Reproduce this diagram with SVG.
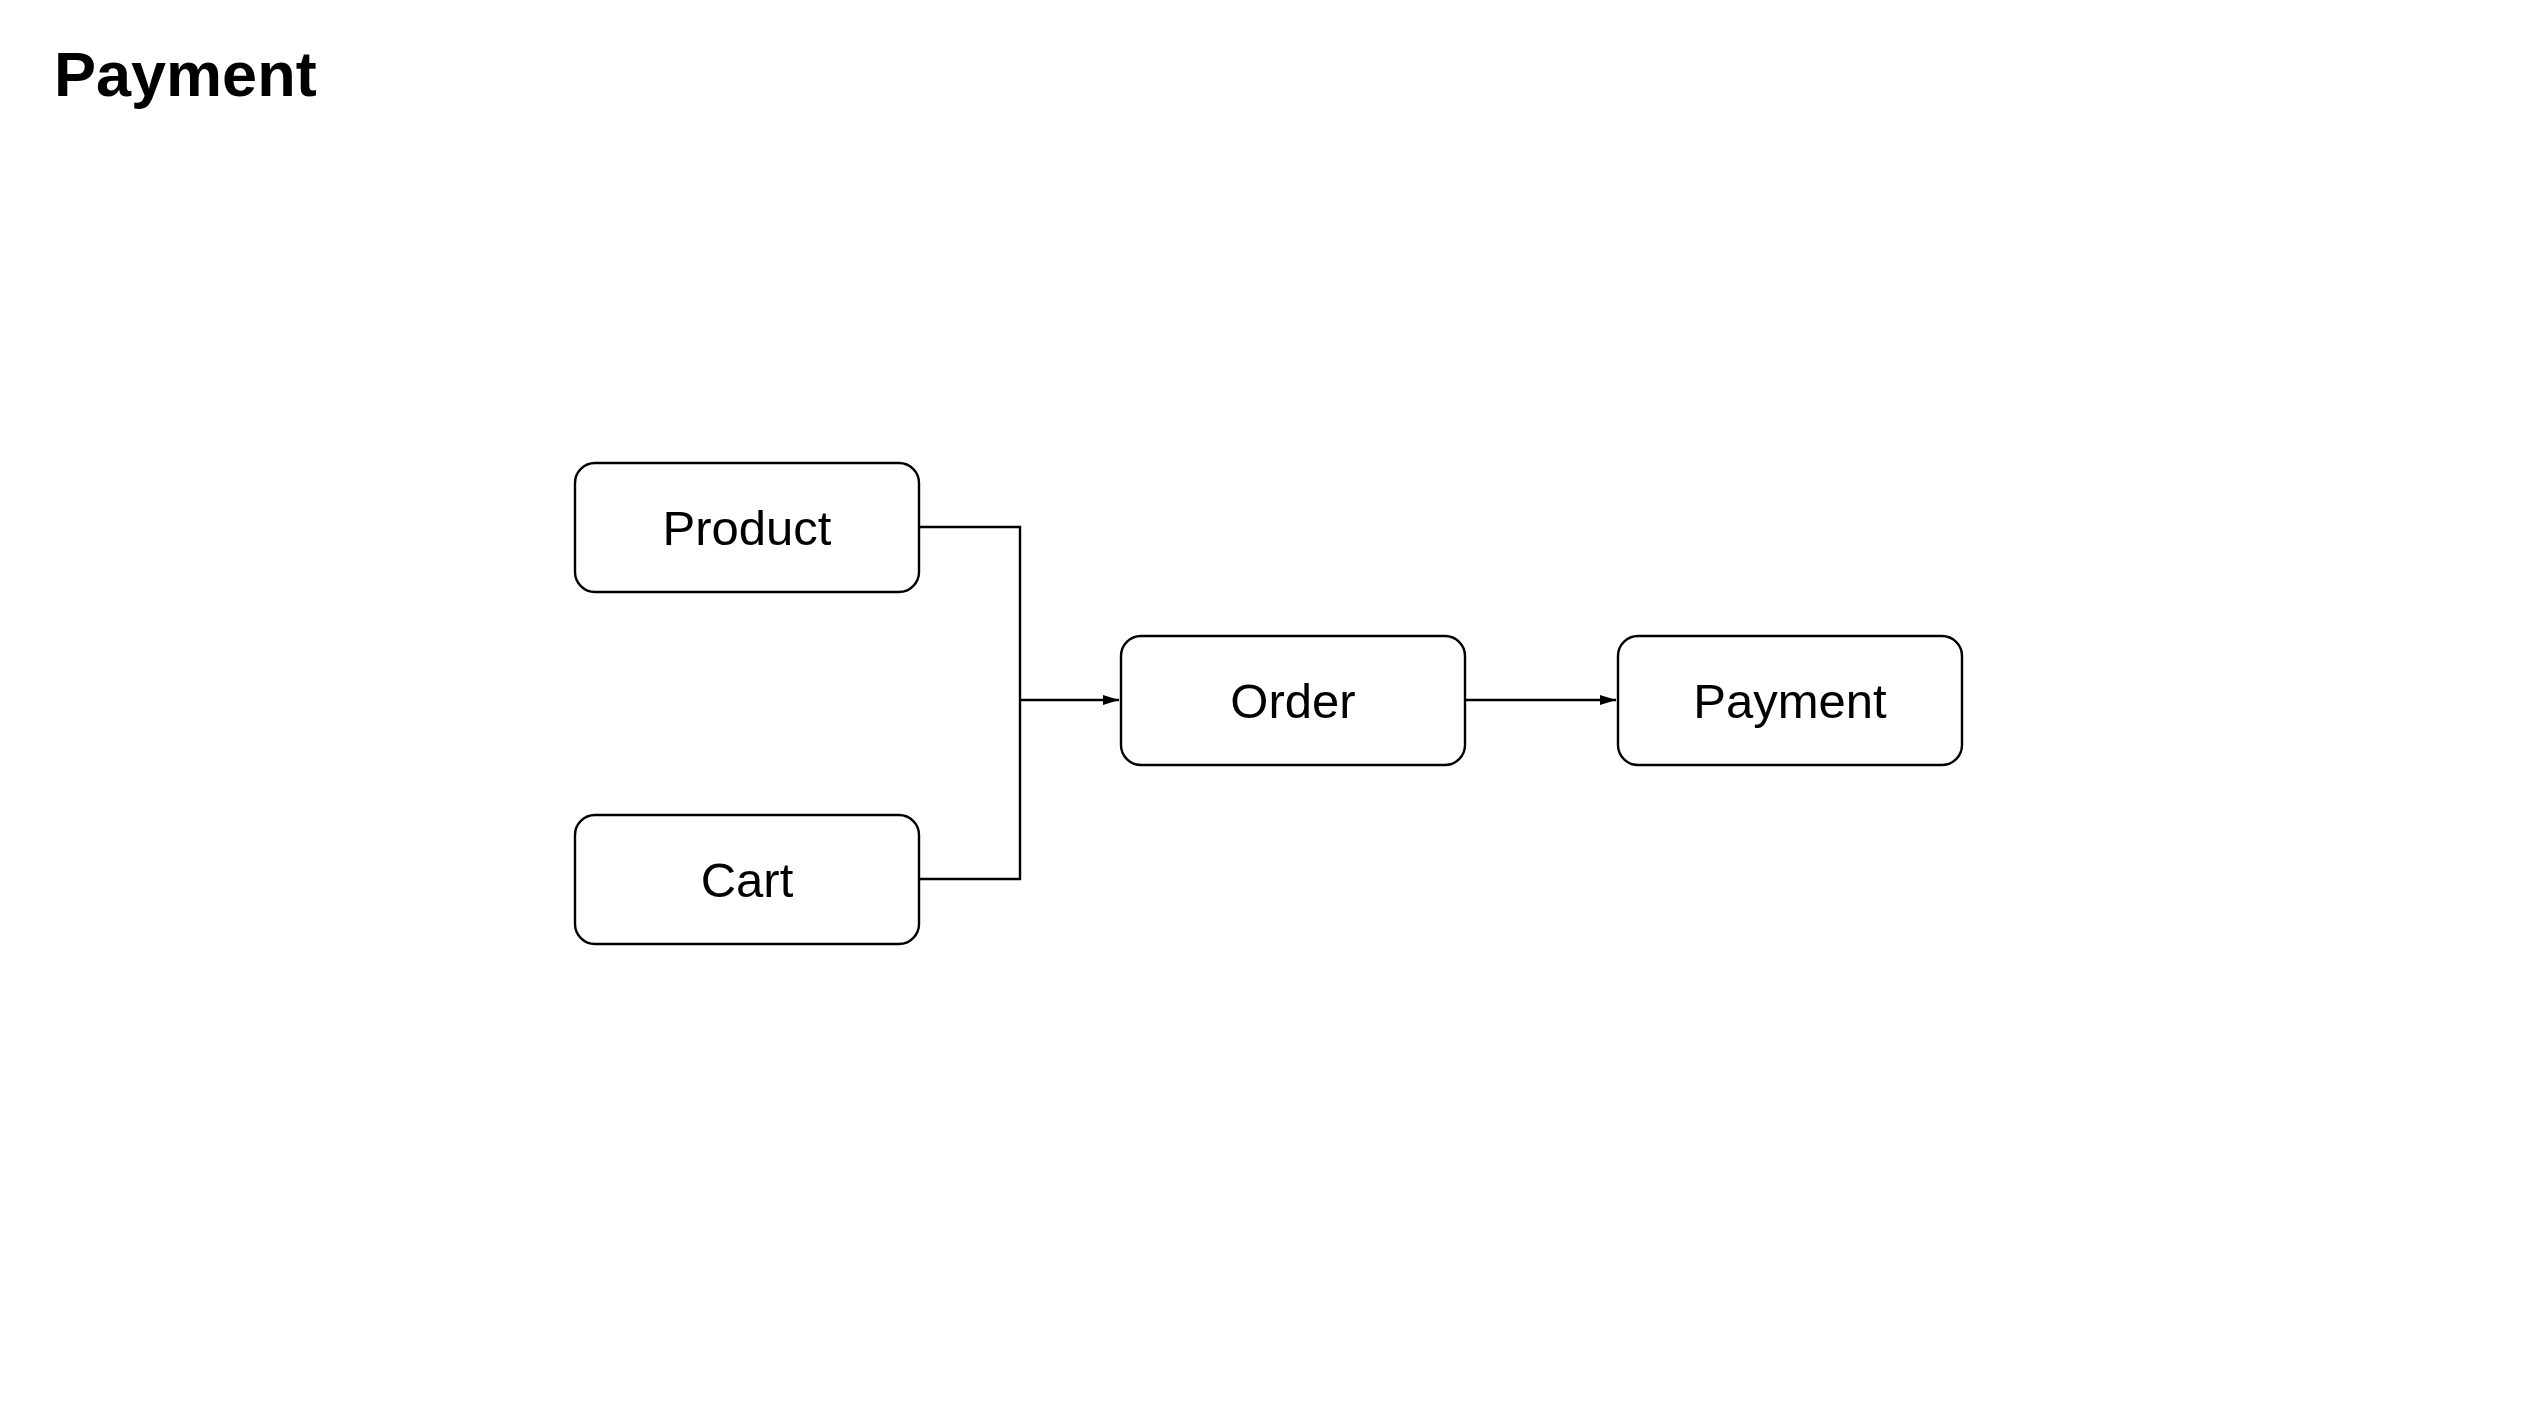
<svg xmlns="http://www.w3.org/2000/svg" width="2528" height="1410" viewBox="0 0 2528 1410">
<style>
.box{fill:#fff;stroke:#000;stroke-width:2.4}
.lbl{font-family:"Liberation Sans",Arial,sans-serif;font-size:49px;fill:#000;text-anchor:middle}
.edge{fill:none;stroke:#000;stroke-width:2.4}
.title{font-family:"Liberation Sans",Arial,sans-serif;font-size:63px;font-weight:bold;fill:#000}
</style>
<defs>
<marker id="arr" viewBox="0 0 10 10" refX="10" refY="5" markerWidth="16" markerHeight="10" markerUnits="userSpaceOnUse" orient="auto" preserveAspectRatio="none">
<path d="M0,0 L10,5 L0,10 z" fill="#000"/>
</marker>
</defs>
<rect width="2528" height="1410" fill="#fff"/>
<text class="title" x="54" y="96">Payment</text>
<g id="connectors">
<path class="edge" d="M919,527 H1020 V879 H919"/>
<path class="edge" d="M1020,700 H1119" marker-end="url(#arr)"/>
<path class="edge" d="M1465,700 H1616" marker-end="url(#arr)"/>
</g>
<g id="node-product">
<rect class="box" x="575" y="463" width="344" height="129" rx="20"/>
<text class="lbl" x="747" y="545">Product</text>
</g>
<g id="node-cart">
<rect class="box" x="575" y="815" width="344" height="129" rx="20"/>
<text class="lbl" x="747" y="897">Cart</text>
</g>
<g id="node-order">
<rect class="box" x="1121" y="636" width="344" height="129" rx="20"/>
<text class="lbl" x="1293" y="718">Order</text>
</g>
<g id="node-payment">
<rect class="box" x="1618" y="636" width="344" height="129" rx="20"/>
<text class="lbl" x="1790" y="718">Payment</text>
</g>
</svg>
